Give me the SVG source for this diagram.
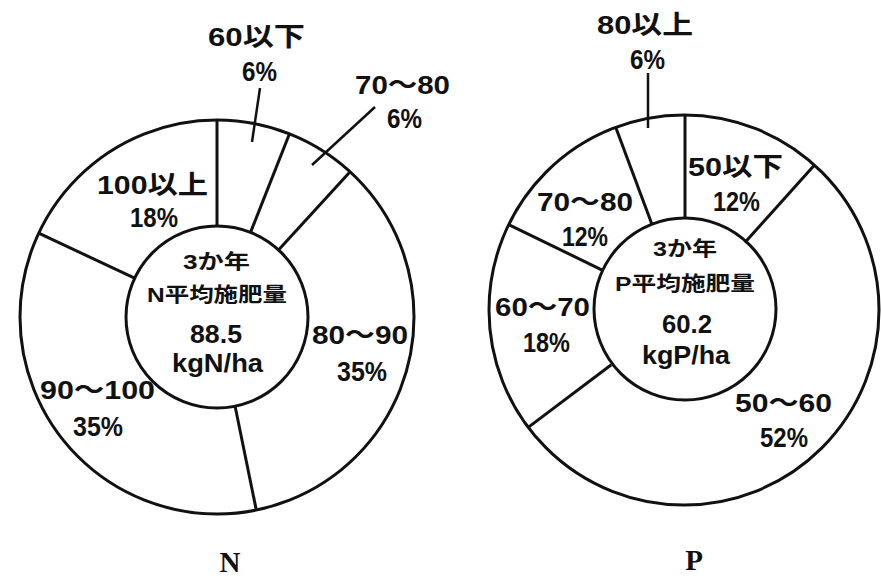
<svg xmlns="http://www.w3.org/2000/svg" width="881" height="581" viewBox="0 0 881 581">
<style>
.ring{fill:none;stroke:#111;stroke-width:3}
.div{stroke:#111;stroke-width:3;fill:none}
.lead{stroke:#111;stroke-width:2.5;fill:none}
text{font-family:"Liberation Sans","Noto Sans CJK JP",sans-serif;font-weight:bold;fill:#111;text-anchor:middle}
.lb{font-size:26px}
.pc{font-size:27px}
.c1{font-size:20px}
.c2{font-size:25px}
.ttl{font-family:"Liberation Serif","Noto Serif CJK JP",serif;font-size:29px}
</style>
<rect width="881" height="581" fill="#fff"/>
<g id="chartN">
<circle class="ring" cx="217" cy="317" r="197"/>
<circle class="ring" cx="217" cy="317" r="91"/>
<g id="dividersN">
<line class="div" x1="217" y1="120" x2="217" y2="226"/>
<line class="div" x1="289.5" y1="133.8" x2="250.5" y2="232.4"/>
<line class="div" x1="350.1" y1="171.8" x2="278.5" y2="249.9"/>
<line class="div" x1="256.3" y1="510.1" x2="235.1" y2="406.2"/>
<line class="div" x1="38.7" y1="233.1" x2="134.6" y2="278.2"/>
</g>
<g id="leadersN">
<line class="lead" x1="260" y1="88" x2="252" y2="142"/>
<line class="lead" x1="375" y1="107" x2="312" y2="165"/>
</g>
<g id="labelsN">
<text class="lb" x="256.5" y="46" textLength="97" lengthAdjust="spacingAndGlyphs">60以下</text>
<text class="pc" x="259.5" y="81" textLength="35" lengthAdjust="spacingAndGlyphs">6%</text>
<text class="lb" x="402.5" y="94" textLength="95" lengthAdjust="spacingAndGlyphs">70～80</text>
<text class="pc" x="404.5" y="128" textLength="35" lengthAdjust="spacingAndGlyphs">6%</text>
<text class="lb" x="152.5" y="194" textLength="111" lengthAdjust="spacingAndGlyphs">100以上</text>
<text class="pc" x="154" y="227" textLength="48" lengthAdjust="spacingAndGlyphs">18%</text>
<text class="lb" x="360" y="344" textLength="96" lengthAdjust="spacingAndGlyphs">80～90</text>
<text class="pc" x="362" y="381" textLength="50" lengthAdjust="spacingAndGlyphs">35%</text>
<text class="lb" x="97.5" y="399" textLength="115" lengthAdjust="spacingAndGlyphs">90～100</text>
<text class="pc" x="98" y="436" textLength="50" lengthAdjust="spacingAndGlyphs">35%</text>
</g>
<g id="centerN">
<text class="c1" x="216.5" y="269" textLength="67" lengthAdjust="spacingAndGlyphs">3か年</text>
<text class="c1" x="217" y="302" textLength="140" lengthAdjust="spacingAndGlyphs">N平均施肥量</text>
<text class="c2" x="216" y="343" textLength="52" lengthAdjust="spacingAndGlyphs">88.5</text>
<text class="c2" x="217.5" y="372" textLength="91" lengthAdjust="spacingAndGlyphs">kgN/ha</text>
</g>
<text id="titleN" class="ttl" x="230" y="572">N</text>
</g>
<g id="chartP">
<circle class="ring" cx="684" cy="310" r="195"/>
<circle class="ring" cx="685" cy="309" r="91"/>
<g id="dividersP">
<line class="div" x1="685" y1="115" x2="685" y2="218"/>
<line class="div" x1="814.5" y1="165.1" x2="744.9" y2="242.4"/>
<line class="div" x1="528.2" y1="427.4" x2="611.3" y2="364.8"/>
<line class="div" x1="508.7" y1="224.6" x2="602.2" y2="270.1"/>
<line class="div" x1="615.7" y1="127.3" x2="652.1" y2="224.7"/>
</g>
<g id="leadersP">
<line class="lead" x1="648" y1="73" x2="648" y2="128"/>
</g>
<g id="labelsP">
<text class="lb" x="645" y="34" textLength="96" lengthAdjust="spacingAndGlyphs">80以上</text>
<text class="pc" x="647.5" y="69" textLength="35" lengthAdjust="spacingAndGlyphs">6%</text>
<text class="lb" x="735.5" y="176" textLength="95" lengthAdjust="spacingAndGlyphs">50以下</text>
<text class="pc" x="736.5" y="211" textLength="47" lengthAdjust="spacingAndGlyphs">12%</text>
<text class="lb" x="585" y="211" textLength="96" lengthAdjust="spacingAndGlyphs">70～80</text>
<text class="pc" x="585" y="246" textLength="46" lengthAdjust="spacingAndGlyphs">12%</text>
<text class="lb" x="542.5" y="316" textLength="95" lengthAdjust="spacingAndGlyphs">60～70</text>
<text class="pc" x="546.5" y="352" textLength="47" lengthAdjust="spacingAndGlyphs">18%</text>
<text class="lb" x="783.5" y="412" textLength="97" lengthAdjust="spacingAndGlyphs">50～60</text>
<text class="pc" x="784" y="447" textLength="48" lengthAdjust="spacingAndGlyphs">52%</text>
</g>
<g id="centerP">
<text class="c1" x="685" y="256" textLength="64" lengthAdjust="spacingAndGlyphs">3か年</text>
<text class="c1" x="685" y="291" textLength="140" lengthAdjust="spacingAndGlyphs">P平均施肥量</text>
<text class="c2" x="687" y="333" textLength="50" lengthAdjust="spacingAndGlyphs">60.2</text>
<text class="c2" x="686" y="364" textLength="88" lengthAdjust="spacingAndGlyphs">kgP/ha</text>
</g>
<text id="titleP" class="ttl" x="694" y="570">P</text>
</g>
</svg>
